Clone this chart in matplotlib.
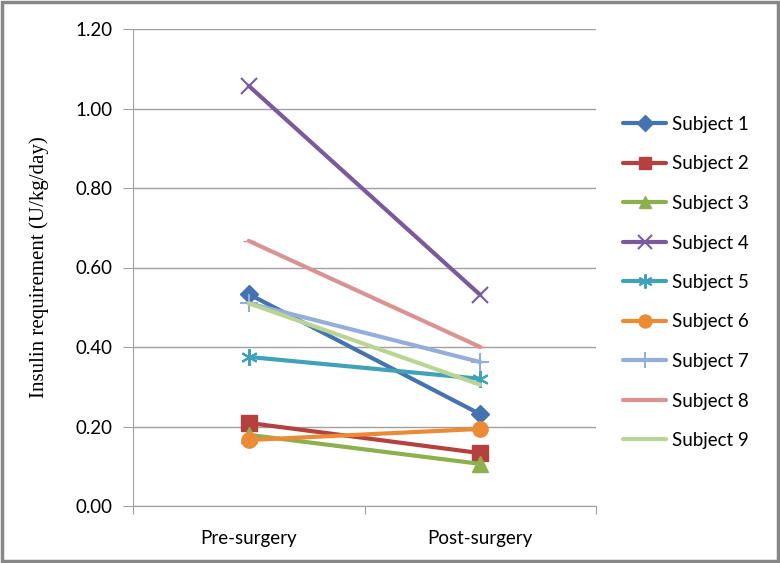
import matplotlib
matplotlib.use("Agg")
import matplotlib.pyplot as plt
from matplotlib.patches import Rectangle

# data
stages = ["Pre-surgery", "Post-surgery"]
subjects = ["Subject 1", "Subject 2", "Subject 3", "Subject 4", "Subject 5",
            "Subject 6", "Subject 7", "Subject 8", "Subject 9"]
pre = [0.533, 0.209, 0.179, 1.057, 0.375, 0.166, 0.510, 0.667, 0.510]
post = [0.231, 0.133, 0.106, 0.531, 0.320, 0.194, 0.362, 0.400, 0.305]

colors = ["#4572B0", "#B5413E", "#8CB04B", "#7A5A9C", "#3FA2B8",
          "#EC8A35", "#93AEDA", "#D99492", "#B9D493"]
markers = ["D", "s", "^", "x", (6, 2, 0), "o", "+", "_", None]
msizes = [9, 11, 11, 12, 12, 11, 13, 8, 0]

gray = "#A0A0A0"
sans = ["Lato", "DejaVu Sans"]

fig = plt.figure(figsize=(7.8, 5.63), dpi=100)
ax = fig.add_axes([133 / 780, 57 / 563, 463 / 780, 477 / 563])

x = range(len(stages))
for i, name in enumerate(subjects):
    vals = [pre[i], post[i]]
    ax.plot(x, vals, color=colors[i], lw=3, marker=markers[i], ms=msizes[i],
            mew=1.5 if markers[i] in ("x", "+", (6, 2, 0)) else 1,
            mec=colors[i], mfc=colors[i], label=name, solid_capstyle="round")

ax.set_xlim(-0.5, 1.5)
ax.set_ylim(0, 1.2)
ax.set_yticks([0, 0.2, 0.4, 0.6, 0.8, 1.0, 1.2])
ax.set_yticklabels(["%.2f" % v for v in [0, 0.2, 0.4, 0.6, 0.8, 1.0, 1.2]],
                   family=sans, fontsize=13.5)
ax.set_xticks([-0.5, 0.5, 1.5])
ax.set_xticklabels([])
ax.set_xticks([0, 1], minor=True)
ax.set_xticklabels(stages, minor=True, family=sans, fontsize=13.5)
ax.tick_params(axis="x", which="minor", length=0, pad=17)
ax.tick_params(axis="x", which="major", length=6, color=gray)
ax.tick_params(axis="y", length=7, color=gray, pad=8)

ax.grid(axis="y", color=gray, lw=1)
ax.set_axisbelow(True)
for s in ["top", "right"]:
    ax.spines[s].set_visible(False)
for s in ["left", "bottom"]:
    ax.spines[s].set_color(gray)

ax.set_ylabel("Insulin requirement (U/kg/day)", family="Liberation Serif",
              fontsize=15, labelpad=19)

leg = ax.legend(loc="upper left", bbox_to_anchor=(623 / 780, 1 - 116 / 563),
                bbox_transform=fig.transFigure, frameon=False,
                prop={"family": sans, "size": 13.5}, handlelength=2.3,
                handletextpad=0.3, labelspacing=1.2, borderaxespad=0,
                borderpad=0, markerscale=0.85)

fig.patches.append(Rectangle((0.003, 0.004), 0.994, 0.992,
                             transform=fig.transFigure, fill=False,
                             ec="#878787", lw=2.5))

fig.savefig("out.png", dpi=100)
